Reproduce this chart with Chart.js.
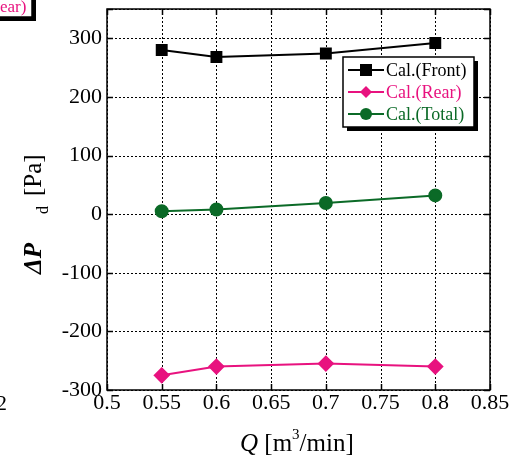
<!DOCTYPE html>
<html>
<head>
<meta charset="utf-8">
<script src="https://cdn.jsdelivr.net/npm/chart.js@4"></script>
<style>
  body { margin: 0; background: #fff; }
  #wrap { width: 512px; height: 462px; }
</style>
</head>
<body>
<div id="wrap"><canvas id="dpChart"></canvas></div>
<script>
// flow rate Q [m3/min]
const flowRates = [0.55, 0.6, 0.7, 0.8];
// pressure differences [Pa]
const frontValues = [280, 268, 274, 292];
const rearValues = [-275, -260, -255, -260];
const totalValues = [5, 8, 19, 32];
const seriesNames = ['Cal.(Front)', 'Cal.(Rear)', 'Cal.(Total)'];

const serif = '"Liberation Serif", "DejaVu Serif", serif';
const PINK = '#e8127f';
const GREEN = '#0b6a27';

function toPoints(values) {
  return flowRates.map((q, i) => ({ x: q, y: values[i] }));
}

// dotted grid + inward tick marks, drawn from the scales' own ticks
const dottedGrid = {
  id: 'dottedGrid',
  beforeDatasetsDraw(chart) {
    const ctx = chart.ctx;
    const area = chart.chartArea;
    const xs = chart.scales.x, ys = chart.scales.y;
    ctx.save();
    ctx.strokeStyle = '#000';
    ctx.lineWidth = 1;
    ctx.setLineDash([2, 2]);
    xs.ticks.forEach(t => {
      const px = Math.round(xs.getPixelForValue(t.value)) + 0.5;
      ctx.beginPath();
      ctx.moveTo(px, area.top);
      ctx.lineTo(px, area.bottom);
      ctx.stroke();
    });
    ys.ticks.forEach(t => {
      const py = Math.round(ys.getPixelForValue(t.value)) + 0.5;
      ctx.beginPath();
      ctx.moveTo(area.left, py);
      ctx.lineTo(area.right, py);
      ctx.stroke();
    });
    ctx.setLineDash([]);
    ctx.lineWidth = 1.5;
    xs.ticks.forEach(t => {
      const px = Math.round(xs.getPixelForValue(t.value)) + 0.5;
      ctx.beginPath();
      ctx.moveTo(px, area.bottom);
      ctx.lineTo(px, area.bottom - 6);
      ctx.moveTo(px, area.top);
      ctx.lineTo(px, area.top + 6);
      ctx.stroke();
    });
    ys.ticks.forEach(t => {
      const py = Math.round(ys.getPixelForValue(t.value)) + 0.5;
      ctx.beginPath();
      ctx.moveTo(area.left, py);
      ctx.lineTo(area.left + 6, py);
      ctx.moveTo(area.right, py);
      ctx.lineTo(area.right - 6, py);
      ctx.stroke();
    });
    ctx.restore();
  }
};

// draws the frame, axis titles, the legend box and the cut-off bits at the edges
const decorations = {
  id: 'decorations',
  afterDraw(chart) {
    const ctx = chart.ctx;
    const area = chart.chartArea;
    ctx.save();

    // frame
    ctx.strokeStyle = '#000';
    ctx.lineWidth = 1.5;
    ctx.strokeRect(area.left, area.top, area.right - area.left, area.bottom - area.top);

    // x title
    ctx.fillStyle = '#000';
    ctx.textBaseline = 'alphabetic';
    let x = 240, y = 451;
    ctx.font = 'italic 25px ' + serif;
    ctx.fillText('Q', x, y);
    x += ctx.measureText('Q ').width;
    ctx.font = '25px ' + serif;
    ctx.fillText('[m', x, y);
    x += ctx.measureText('[m').width;
    ctx.font = '15px ' + serif;
    ctx.fillText('3', x, y - 12);
    x += ctx.measureText('3').width;
    ctx.font = '25px ' + serif;
    ctx.fillText('/min]', x, y);

    // y title (rotated)
    ctx.save();
    ctx.translate(41, 274);
    ctx.rotate(-Math.PI / 2);
    ctx.font = 'italic bold 25px ' + serif;
    ctx.fillText('\u0394P', 0, 0);
    ctx.font = '16px ' + serif;
    ctx.fillText('d', 60, 7);
    ctx.font = '25px ' + serif;
    ctx.fillText('[Pa]', 78, 0);
    ctx.restore();

    // legend box with shadow
    const lx = 343, ly = 57, lw = 131, lh = 70;
    ctx.fillStyle = '#000';
    ctx.fillRect(lx + 4, ly + 4, lw, lh);
    ctx.fillStyle = '#fff';
    ctx.fillRect(lx, ly, lw, lh);
    ctx.strokeStyle = '#000';
    ctx.lineWidth = 1.5;
    ctx.strokeRect(lx, ly, lw, lh);
    chart.data.datasets.forEach((ds, i) => {
      const ry = ly + 13 + i * 22;
      ctx.strokeStyle = ds.borderColor;
      ctx.lineWidth = 2;
      ctx.beginPath();
      ctx.moveTo(lx + 5, ry);
      ctx.lineTo(lx + 41, ry);
      ctx.stroke();
      ctx.fillStyle = ds.backgroundColor;
      ctx.beginPath();
      if (ds.pointStyle === 'rect') {
        ctx.rect(lx + 17, ry - 6, 12, 12);
      } else if (ds.pointStyle === 'rectRot') {
        ctx.moveTo(lx + 23, ry - 6);
        ctx.lineTo(lx + 29, ry);
        ctx.lineTo(lx + 23, ry + 6);
        ctx.lineTo(lx + 17, ry);
        ctx.closePath();
      } else {
        ctx.arc(lx + 23, ry, 6, 0, Math.PI * 2);
      }
      ctx.fill();
      ctx.fillStyle = ds.borderColor;
      ctx.font = '18px ' + serif;
      ctx.textBaseline = 'middle';
      ctx.fillText(ds.label, lx + 43, ry + 1);
    });

    // piece of a neighbouring legend, top left
    ctx.fillStyle = '#000';
    ctx.fillRect(0, 0, 36, 21);
    ctx.fillStyle = '#fff';
    ctx.fillRect(0, 0, 32, 17);
    ctx.strokeStyle = '#000';
    ctx.lineWidth = 1.5;
    ctx.strokeRect(-2, -2, 34, 19);
    ctx.fillStyle = PINK;
    ctx.font = '17px ' + serif;
    ctx.textBaseline = 'alphabetic';
    ctx.fillText('ear)', 0, 12);

    // stray digit at left edge
    ctx.fillStyle = '#000';
    ctx.font = '22px ' + serif;
    ctx.fillText('2', -4, 410);

    ctx.restore();
  }
};

new Chart(document.getElementById('dpChart'), {
  type: 'scatter',
  data: {
    datasets: [
      {
        label: seriesNames[0],
        data: toPoints(frontValues),
        borderColor: '#000',
        backgroundColor: '#000',
        pointStyle: 'rect',
        pointRadius: 7,
        borderWidth: 2,
        showLine: true
      },
      {
        label: seriesNames[1],
        data: toPoints(rearValues),
        borderColor: PINK,
        backgroundColor: PINK,
        pointStyle: 'rectRot',
        pointRadius: 7,
        borderWidth: 2,
        showLine: true
      },
      {
        label: seriesNames[2],
        data: toPoints(totalValues),
        borderColor: GREEN,
        backgroundColor: GREEN,
        pointStyle: 'circle',
        pointRadius: 6,
        borderWidth: 2,
        showLine: true
      }
    ]
  },
  options: {
    responsive: true,
    maintainAspectRatio: false,
    animation: false,
    layout: { padding: { left: 0, right: 22, top: 8, bottom: 0 } },
    plugins: {
      legend: { display: false },
      tooltip: { enabled: false }
    },
    scales: {
      x: {
        type: 'linear',
        min: 0.5,
        max: 0.85,
        afterFit(scale) { scale.height = 72; },
        ticks: {
          stepSize: 0.05,
          color: '#000',
          font: { family: serif, size: 22 },
          padding: 0,
          maxRotation: 0,
          autoSkip: false,
          callback: v => Number(v.toFixed(2)).toString()
        },
        grid: { display: false, drawTicks: false },
        border: { display: false }
      },
      y: {
        min: -300,
        max: 350,
        afterFit(scale) {
          scale.width = 107;
          scale.paddingTop = 0;
        },
        ticks: {
          stepSize: 100,
          color: '#000',
          font: { family: serif, size: 22 },
          padding: 5,
          autoSkip: false,
          callback: v => (v === 350 ? '' : v)
        },
        grid: { display: false, drawTicks: false },
        border: { display: false }
      }
    }
  },
  plugins: [dottedGrid, decorations]
});
</script>
</body>
</html>
